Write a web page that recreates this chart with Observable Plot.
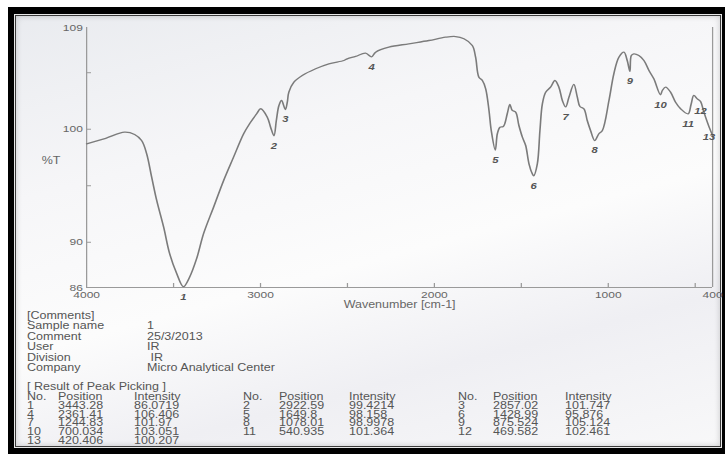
<!DOCTYPE html>
<html>
<head>
<meta charset="utf-8">
<script src="https://cdn.jsdelivr.net/npm/d3@7"></script>
<script src="https://cdn.jsdelivr.net/npm/@observablehq/plot@0.6"></script>
<style>
  html, body { margin: 0; padding: 0; background: #fff; }
  #page { position: relative; width: 728px; height: 463px; overflow: hidden; background: #fff;
          font-family: "Liberation Sans", Arial, sans-serif; }
  #sheet { position: absolute; left: 8px; top: 7px; width: 717px; height: 447px; box-sizing: border-box;
           border-style: solid; border-color: #000; border-width: 7px 3px 6px 6px;
           background: linear-gradient(165deg, #e9ebef 0%, #f6f6f8 30%, #fcfcfc 55%, #efeff3 75%, #f8f8f9 100%);
           box-shadow: inset 0 0 0 1px #e8e8e8, inset 0 0 0 2px #3a3a3a, inset 0 0 6px 2px rgba(0,0,0,0.18); }
  #content { position: absolute; left: 0; top: 0; width: 582.4px; height: 463px;
             transform: scaleX(1.25); transform-origin: 0 0; }
  #chart { position: absolute; left: 0; top: 0; }
  .t { position: absolute; font-size: 10px; line-height: 8px; color: #555; white-space: pre; }
</style>
</head>
<body>
<div id="page">
  <div id="sheet"></div>
  <div id="content">
    <div id="chart"></div>
    <div id="notes"></div>
  </div>
</div>
<script>
// IR spectrum trace (wavenumber in cm-1, transmittance in %T), between the picked peaks
const traceWavenumber = [
  4000, 3890, 3782, 3724, 3684, 3655, 3626, 3597, 3557, 3523, 3482,
  3408, 3367, 3327, 3270, 3212, 3155, 3097, 3063, 3022, 2999, 2961, 2942,
  2909, 2894, 2879,
  2846, 2837, 2808, 2760, 2683, 2607, 2520, 2501, 2453, 2396,
  2338, 2262, 2147, 2032, 1936, 1878, 1830, 1782, 1763, 1744, 1724, 1705, 1686, 1673,
  1638, 1623, 1604, 1581, 1566, 1552, 1533, 1514, 1494, 1475, 1456, 1437,
  1408, 1393, 1379, 1360, 1332, 1307, 1284, 1264,
  1226, 1198, 1178, 1163, 1140, 1121, 1102,
  1054, 1034, 996, 968, 939, 910, 891,
  867.5, 853, 824, 795, 766, 738,
  689, 670, 642, 613, 584,
  524, 508, 488,
  450,
  400
];
const traceTransmittance = [
  98.71, 99.2, 99.74, 99.54, 99.0, 97.85, 95.76, 93.70, 91.33, 89.01, 87.24,
  86.91, 88.57, 90.78, 93.10, 95.47, 97.53, 99.60, 100.48, 101.37, 101.81, 101.07, 100.18,
  100.77, 102.10, 102.54,
  102.39, 103.28, 104.16, 104.75, 105.35, 105.79, 106.08, 106.23, 106.44, 106.73,
  106.82, 107.26, 107.56, 107.85, 108.14, 108.2, 108.0, 107.41, 106.37, 104.60, 104.31, 103.58, 101.66, 99.89,
  99.60, 100.18, 100.24, 101.37, 102.19, 101.66, 101.51, 100.33, 99.30, 98.56, 96.94, 96.06,
  96.94, 99.89, 102.25, 103.28, 103.72, 104.31, 103.72, 102.54,
  102.84, 103.96, 102.84, 102.01, 101.81, 100.77, 99.89,
  99.60, 99.89, 102.54, 104.90, 106.37, 106.82, 106.08,
  106.52, 106.67, 106.52, 106.08, 105.20, 104.46,
  103.43, 103.72, 103.28, 102.39, 101.81,
  102.19, 102.99, 102.69,
  101.51,
  99.45
];

// Result of peak picking
const peakNo = [1, 2, 3, 4, 5, 6, 7, 8, 9, 10, 11, 12, 13];
const peakPosition = [3443.28, 2922.59, 2857.02, 2361.41, 1649.8, 1428.99, 1244.83, 1078.01, 875.524, 700.034, 540.935, 469.582, 420.406];
const peakIntensity = [86.0719, 99.4214, 101.747, 106.406, 98.158, 95.876, 101.97, 98.9978, 105.124, 103.051, 101.364, 102.461, 100.207];

// Axes
const xDomain = [4000, 400];
const yDomain = [86, 109];
const xTickLabels = [4000, 3000, 2000, 1000, 400];
const xTickMarks = [3500, 3000, 2500, 2000, 1500, 1000, 500];
const yTickLabels = [109, 100, 90, 86];
const yTickMarks = [105, 100, 95, 90];

// Sample header
const commentFields = ["Sample name", "Comment", "User", "Division", "Company"];
const commentValues = ["1", "25/3/2013", "IR", " IR", "Micro Analytical Center"];

const SX = 1.25; // horizontal stretch of the printout
const peaks = peakNo.map((no, i) => ({no, wn: peakPosition[i], t: peakIntensity[i]}));
const spectrum = traceWavenumber.map((wn, i) => ({wn, t: traceTransmittance[i]}))
  .concat(peaks.map(p => ({wn: p.wn, t: p.t})))
  .sort((a, b) => b.wn - a.wn);

const font = "'Liberation Sans', Arial, sans-serif";
const chart = Plot.plot({
  width: 728 / SX,
  height: 320,
  marginLeft: 86 / SX,
  marginRight: 16 / SX,
  marginTop: 27,
  marginBottom: 33,
  style: {background: "transparent", fontFamily: font, fontSize: "10px", color: "#666", overflow: "visible"},
  x: {domain: xDomain},
  y: {domain: yDomain},
  marks: [
    Plot.ruleX(xDomain, {stroke: "#9a9a9a", strokeWidth: 1}),
    Plot.ruleY([yDomain[0]], {stroke: "#9a9a9a", strokeWidth: 1}),
    Plot.axisX(xTickMarks, {tickSize: 4, dy: -4, fill: "none", stroke: "#9a9a9a", label: null}),
    Plot.axisY(yTickMarks, {tickSize: 4, dx: 4, fill: "none", stroke: "#9a9a9a", label: null}),
    Plot.axisX(xTickLabels, {tickSize: 0, tickPadding: 4, label: null, tickFormat: d => String(d), fill: "#666", fontSize: 9.6}),
    Plot.axisY(yTickLabels, {tickSize: 0, tickPadding: 3, label: null, tickFormat: d => String(d), fill: "#666", fontSize: 9.6}),
    Plot.line(spectrum, {x: "wn", y: "t", curve: "catmull-rom", stroke: "#7b7b7b", strokeWidth: 1.3}),
    Plot.text(peaks, {x: "wn", y: "t", text: "no", dy: 10, fontSize: 9, fontStyle: "italic", fontWeight: "bold", fill: "#555"}),
    Plot.text(["%T"], {frameAnchor: "left", text: d => d, dx: -36, dy: 3, fill: "#666"}),
    Plot.text(["Wavenumber [cm-1]"], {frameAnchor: "bottom", text: d => d, dy: 21, fill: "#666"})
  ]
});
document.getElementById("chart").appendChild(chart);

// Comments and peak table below the spectrum
const notes = document.getElementById("notes");
function put(text, x, yCenter) {
  const el = document.createElement("div");
  el.className = "t";
  el.textContent = text;
  el.style.left = (x / SX) + "px";
  el.style.top = (yCenter - 4) + "px";
  notes.appendChild(el);
}
put("[Comments]", 27, 316);
commentFields.forEach((f, i) => {
  const y = 326 + i * 10.5;
  put(f, 27, y);
  put(commentValues[i], 147, y);
});
put("[ Result of Peak Picking ]", 27, 387);
const groups = [
  {no: 27, pos: 58, inten: 134},
  {no: 243, pos: 279, inten: 349},
  {no: 458, pos: 493, inten: 565}
];
groups.forEach(g => {
  put("No.", g.no, 397);
  put("Position", g.pos, 397);
  put("Intensity", g.inten, 397);
});
peaks.forEach((p, i) => {
  const row = Math.floor(i / 3), g = groups[i % 3];
  const y = 406 + row * 8.7;
  put(String(p.no), g.no, y);
  put(String(p.wn), g.pos, y);
  put(String(p.t), g.inten, y);
});
</script>
</body>
</html>
